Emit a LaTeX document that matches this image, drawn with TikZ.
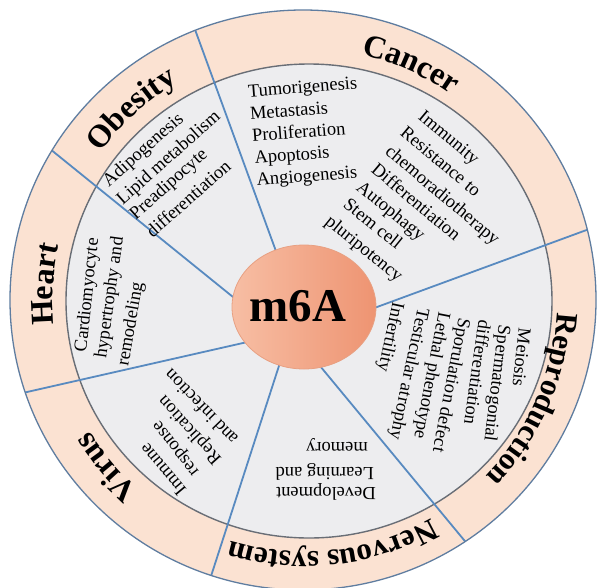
\documentclass[tikz,border=0pt]{standalone}
\usepackage{fontspec}
\setmainfont{Liberation Serif}
\usetikzlibrary{decorations.text,calc,shapes.geometric}
\definecolor{ringpeach}{RGB}{251,226,210}
\definecolor{innergray}{RGB}{237,237,239}
\definecolor{outerblue}{RGB}{95,125,160}
\definecolor{innerborder}{RGB}{105,110,118}
\definecolor{divblue}{RGB}{88,138,192}
\definecolor{mlight}{RGB}{247,190,164}
\definecolor{mdark}{RGB}{238,148,114}
\definecolor{mborder}{RGB}{232,160,130}
\newcommand{\catfont}[1]{\bfseries\fontsize{#1}{#1}\selectfont}
\begin{document}
\begin{tikzpicture}[x=1pt,y=1pt,
  item/.style={anchor=west, inner sep=0pt, font=\fontsize{18.5}{22}\selectfont, text height=12.5pt, text depth=4pt},
  divider/.style={draw=divblue, line width=1.8pt},
  catlabel/.style={decorate, decoration={text along path, text align=center, text={#1}}}
]
\useasboundingbox (0,0) rectangle (597,-587);
\fill[white] (0,0) rectangle (597,-587);
\coordinate (O) at (305,-300);
% rings
\fill[ringpeach] (303,-300) ellipse [x radius=293, y radius=290];
\filldraw[fill=innergray, draw=innerborder, line width=1.4pt] (309,-301) ellipse [x radius=243, y radius=237];
% dividers
\coordinate (d1i) at (273,-243); \coordinate (d1o) at (197,-35);
\coordinate (d2i) at (233,-297); \coordinate (d2o) at (55,-153);
\coordinate (d3i) at (243,-343); \coordinate (d3o) at (27,-392);
\coordinate (d4i) at (277,-372); \coordinate (d4o) at (213,-570);
\coordinate (d5i) at (325,-372); \coordinate (d5o) at (464,-540);
\coordinate (d6i) at (377,-307); \coordinate (d6o) at (592,-228);
\begin{scope}
\clip (303,-300) ellipse [x radius=293, y radius=290];
\foreach \k in {1,...,6}{
  \draw[divider] ($(d\k i)!-0.1!(d\k o)$) -- ($(d\k i)!1.3!(d\k o)$);
}
\end{scope}
\draw[outerblue, line width=1.3pt] (303,-300) ellipse [x radius=293, y radius=290];
% hub
\node[ellipse, inner sep=0pt, minimum width=144pt, minimum height=124pt,
      left color=mlight, right color=mdark, draw=mborder, line width=0.8pt] (hub) at (304,-307) {};
\node[font=\bfseries\fontsize{47}{47}\selectfont, inner sep=0pt] (hubtext) at (298,-306) {m6A};
% category labels
\path[catlabel={|\catfont{32}|Cancer}] (O) ++(110.8:252) arc[start angle=110.8, end angle=20.8, radius=252];
\path[catlabel={|\catfont{32}|Obesity}] (O) ++(177.3:252) arc[start angle=177.3, end angle=87.3, radius=252];
\path[catlabel={|\catfont{32}|Heart}] (O) ++(221.6:252) arc[start angle=221.6, end angle=131.6, radius=252];
\path[catlabel={|\catfont{32}|Virus}] (O) ++(265:252) arc[start angle=265, end angle=175, radius=252];
\path[catlabel={|\catfont{31}|Nervous system}] (O) ++(321.4:252) arc[start angle=321.4, end angle=231.4, radius=252];
\path[catlabel={|\catfont{31}|Reproduction}] (O) ++(381.5:252) arc[start angle=381.5, end angle=291.5, radius=252];
% Cancer items (left)
\node[item, rotate=4.5] (ca1) at (248,-93) {Tumorigenesis};
\node[item, rotate=4.5] (ca2) at (250,-115.5) {Metastasis};
\node[item, rotate=4.5] (ca3) at (252,-137.5) {Proliferation};
\node[item, rotate=4.5] (ca4) at (254.5,-159.5) {Apoptosis};
\node[item, rotate=4.5] (ca5) at (256.5,-181.5) {Angiogenesis};
% Cancer items (right)
\node[item, rotate=-40] (cb1) at (420,-115) {Immunity};
\node[item, rotate=-40] (cb2) at (402,-131) {Resistance to};
\node[item, rotate=-40] (cb3) at (387,-150) {chemoradiotherapy};
\node[item, rotate=-40] (cb4) at (373,-168) {Differentiation};
\node[item, rotate=-39] (cb5) at (358,-186) {Autophagy};
\node[item, rotate=-39] (cb6) at (345,-203) {Stem cell};
\node[item, rotate=-39] (cb7) at (327,-220) {pluripotency};
% Obesity items
\node[item, rotate=41.5] (ob1) at (106,-184) {Adipogenesis};
\node[item, rotate=41.5] (ob2) at (120,-202) {Lipid metabolism};
\node[item, rotate=41.5] (ob3) at (133,-217) {Preadipocyte};
\node[item, rotate=41.5] (ob4) at (150,-235) {differentiation};
% Heart items
\node[item, rotate=84] (he1) at (82,-352) {Cardiomyocyte};
\node[item, rotate=82] (he2) at (102,-358) {hypertrophy and};
\node[item, rotate=80] (he3) at (124,-366) {remodeling};
% Virus items
\node[item, rotate=130] (vi1) at (184,-492) {Immune};
\node[item, rotate=128] (vi2) at (196,-474) {response};
\node[item, rotate=132] (vi3) at (219,-461) {Replication};
\node[item, rotate=134] (vi4) at (236,-441) {and infection};
% Nervous system items
\node[item, rotate=180] (ne1) at (376,-492) {Development};
\node[item, rotate=180] (ne2) at (374,-472) {Learning and};
\node[item, rotate=180] (ne3) at (368,-447) {memory};
% Reproduction items
\node[item, rotate=-96] (re1) at (523,-328) {Meiosis};
\node[item, rotate=-97] (re2) at (503,-325) {Spermatogonial};
\node[item, rotate=-98] (re3) at (483,-320) {differentiation};
\node[item, rotate=-101] (re4) at (463,-318) {Sporulation defect};
\node[item, rotate=-101] (re5) at (443,-312) {Lethal phenotype};
\node[item, rotate=-102] (re6) at (422,-308) {Testicular atrophy};
\node[item, rotate=-102] (re7) at (397,-302) {Infertility};
\end{tikzpicture}
\end{document}
